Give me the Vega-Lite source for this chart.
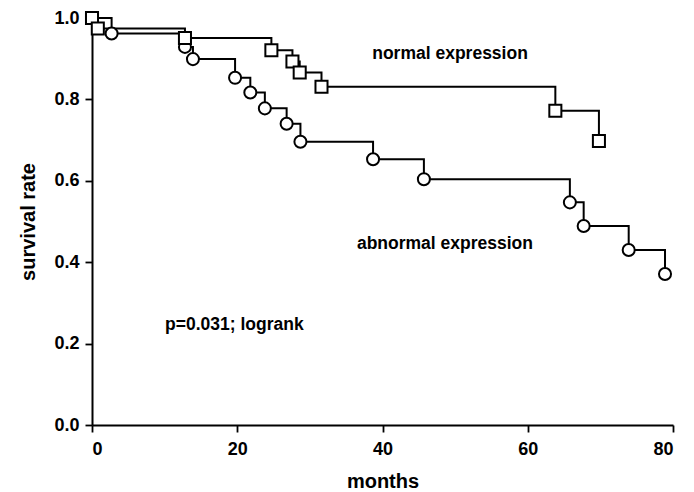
{
  "$schema": "https://vega.github.io/schema/vega-lite/v6.json",
  "width": 581,
  "height": 407,
  "autosize": {"type": "none"},
  "padding": {"left": 92, "top": 18, "right": 21, "bottom": 67},
  "background": "white",
  "config": {
    "view": {"stroke": null},
    "font": "Liberation Sans",
    "axis": {"grid": false, "domainColor": "black", "domainWidth": 2, "tickColor": "black", "tickWidth": 1.8, "tickSize": 7, "labelFont": "Liberation Sans", "labelFontWeight": "bold", "labelFontSize": 18, "labelColor": "black", "titleFont": "Liberation Sans", "titleFontWeight": "bold", "titleFontSize": 20, "titleColor": "black"}
  },
  "datasets": {
    "km": [
      {"group": "abnormal", "months": 0, "survival": 1.0},
      {"group": "abnormal", "months": 2.7, "survival": 0.962},
      {"group": "abnormal", "months": 12.8, "survival": 0.929},
      {"group": "abnormal", "months": 13.9, "survival": 0.899},
      {"group": "abnormal", "months": 19.7, "survival": 0.853},
      {"group": "abnormal", "months": 21.8, "survival": 0.817},
      {"group": "abnormal", "months": 23.8, "survival": 0.778},
      {"group": "abnormal", "months": 26.8, "survival": 0.740},
      {"group": "abnormal", "months": 28.7, "survival": 0.696},
      {"group": "abnormal", "months": 38.7, "survival": 0.653},
      {"group": "abnormal", "months": 45.7, "survival": 0.604},
      {"group": "abnormal", "months": 65.8, "survival": 0.547},
      {"group": "abnormal", "months": 67.7, "survival": 0.489},
      {"group": "abnormal", "months": 73.9, "survival": 0.430},
      {"group": "abnormal", "months": 78.9, "survival": 0.371},
      {"group": "normal", "months": 0, "survival": 1.0},
      {"group": "normal", "months": 0.8, "survival": 0.974},
      {"group": "normal", "months": 12.8, "survival": 0.951},
      {"group": "normal", "months": 24.7, "survival": 0.921},
      {"group": "normal", "months": 27.6, "survival": 0.893},
      {"group": "normal", "months": 28.6, "survival": 0.866},
      {"group": "normal", "months": 31.6, "survival": 0.831},
      {"group": "normal", "months": 63.8, "survival": 0.772},
      {"group": "normal", "months": 69.8, "survival": 0.698}
    ],
    "notes": [
      {"label": "normal expression", "months": 49.3, "survival": 0.912},
      {"label": "abnormal expression", "months": 48.6, "survival": 0.445},
      {"label": "p=0.031; logrank", "months": 19.6, "survival": 0.245}
    ]
  },
  "layer": [
    {
      "data": {"name": "km"},
      "mark": {"type": "line", "interpolate": "step-after", "color": "black", "strokeWidth": 2},
      "encoding": {
        "x": {"field": "months", "type": "quantitative", "scale": {"domain": [0, 80], "nice": false}, "axis": {"values": [0, 20, 40, 60, 80], "title": "months", "labelPadding": 8, "titlePadding": 13}},
        "y": {"field": "survival", "type": "quantitative", "scale": {"domain": [0, 1], "nice": false}, "axis": {"values": [0, 0.2, 0.4, 0.6, 0.8, 1.0], "format": ".1f", "title": "survival rate", "labelPadding": 6, "titlePadding": 15}},
        "detail": {"field": "group"}
      }
    },
    {
      "data": {"name": "km"},
      "mark": {"type": "point", "filled": false, "fill": "white", "stroke": "black", "strokeWidth": 2, "size": 145, "opacity": 1},
      "encoding": {
        "x": {"field": "months", "type": "quantitative"},
        "y": {"field": "survival", "type": "quantitative"},
        "shape": {"field": "group", "type": "nominal", "scale": {"domain": ["abnormal", "normal"], "range": ["circle", "square"]}, "legend": null}
      }
    },
    {
      "data": {"name": "notes"},
      "mark": {"type": "text", "font": "Liberation Sans", "fontWeight": "bold", "fontSize": 17.5, "color": "black", "align": "center", "baseline": "middle"},
      "encoding": {
        "x": {"field": "months", "type": "quantitative"},
        "y": {"field": "survival", "type": "quantitative"},
        "text": {"field": "label"}
      }
    }
  ]
}
